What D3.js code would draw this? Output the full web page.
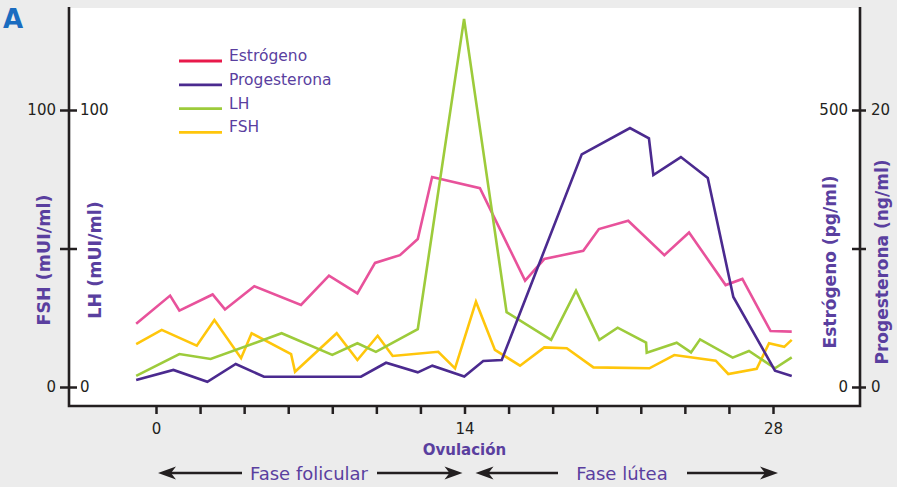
<!DOCTYPE html>
<html>
<head>
<meta charset="utf-8">
<script src="https://cdn.jsdelivr.net/npm/d3@7"></script>
<style>
  html, body { margin: 0; padding: 0; background: #ececec; }
  svg { display: block; font-family: "DejaVu Sans", Verdana, sans-serif; }
</style>
</head>
<body>
<svg id="chart" width="897" height="487"></svg>
<script>
// Hormone levels across the menstrual cycle: [day of cycle, value]
const estrogeno = [[-0.9,114],[0.64,165],[1.06,138],[2.57,167],[3.13,140],[4.46,182],[6.58,148],[7.85,201],[9.14,169],[9.94,224],[11.07,238],[11.88,267],[12.53,379],[14.7,359],[16.75,192],[17.62,231],[19.39,246],[20.1,285],[21.43,300],[23.07,238],[24.19,279],[25.85,184],[26.61,195],[27.89,101],[28.85,100]];
const progesterona = [[-0.9,0.5],[0.79,1.23],[2.33,0.38],[3.62,1.66],[4.9,0.74],[9.3,0.74],[10.44,1.75],[11.88,1.06],[12.54,1.54],[13.99,0.76],[14.85,1.88],[15.69,1.95],[19.32,16.8],[21.51,18.7],[22.37,17.95],[22.57,15.3],[23.82,16.6],[25.04,15.1],[26.2,6.5],[28.09,1.18],[28.85,0.79]];
const lh = [[-0.9,4],[1.06,11.9],[2.48,10.1],[5.7,19.4],[8,11.6],[9.14,15.8],[9.98,12.7],[11.88,20.9],[13.98,132.9],[15.91,27],[17.93,17],[19.06,34.8],[20.12,17],[20.95,21.4],[22.24,16],[22.27,12.4],[23.63,16],[24.28,12.5],[24.69,17.2],[26.17,10.6],[26.91,13],[28.09,6.75],[28.85,10.7]];
const fsh = [[-0.9,15.5],[0.26,20.6],[1.85,14.9],[2.65,24.2],[3.86,10.4],[4.34,19.4],[6.13,11.9],[6.31,5.5],[8.2,19.4],[9.14,9.75],[10.06,18.5],[10.74,11.2],[12.81,12.7],[13.57,6.7],[14.52,30.8],[15.38,13.4],[16.52,7.7],[17.62,14.3],[18.64,14],[19.85,7.1],[22.39,6.75],[23.52,11.55],[25.4,9.5],[25.97,4.7],[27.26,6.6],[27.82,15.8],[28.51,14.5],[28.85,17]];

// Axis ticks
const dayTicks = [0,2,4,6,8,10,12,14,16,18,20,22,24,26,28];
const dayLabels = [0,14,28];
const mUITicks = [0,50,100];
const estrTicks = [0,250,500];
const progTicks = [0,10,20];

// Legend entries
const legendNames = ["Estrógeno","Progesterona","LH","FSH"];
const legendColors = ["#e8194b","#4b2a8f","#9dcb3b","#ffc60b"];

const svg = d3.select("#chart");
const W = 897, H = 487;
const plot = {left: 69, right: 860, top: 8, bottom: 406};

svg.append("rect").attr("width", W).attr("height", H).attr("fill", "#ececec");
svg.append("rect")
  .attr("x", plot.left).attr("y", plot.top)
  .attr("width", plot.right - plot.left).attr("height", plot.bottom - plot.top)
  .attr("fill", "#ffffff");

const x = d3.scaleLinear().domain([0, 28]).range([156, 773]);
const yFSH = d3.scaleLinear().domain([0, 100]).range([387, 110]);
const yLH = d3.scaleLinear().domain([0, 100]).range([387, 110]);
const yE = d3.scaleLinear().domain([0, 500]).range([387, 110]);
const yP = d3.scaleLinear().domain([0, 20]).range([387, 110]);

const axisColor = "#231f20";
const textPurple = "#5a3f9f";

function styleAxis(g) {
  g.select(".domain").remove();
  g.selectAll(".tick line").attr("stroke", axisColor).attr("stroke-width", 2.5);
  g.selectAll(".tick text").attr("fill", axisColor).style("font-size", "15px")
    .style("font-family", "'DejaVu Sans', Verdana, sans-serif");
}
const labelOnly = keep => d => keep.includes(d) ? d : "";

// Left: FSH (outer) and LH (inner) share the same spine
svg.append("g").attr("transform", `translate(${plot.left},0)`)
  .call(d3.axisLeft(yFSH).tickValues(mUITicks).tickSize(9).tickPadding(4).tickFormat(labelOnly([0,100])))
  .call(styleAxis);
svg.append("g").attr("transform", `translate(${plot.left},0)`)
  .call(d3.axisRight(yLH).tickValues(mUITicks).tickSize(8).tickPadding(3).tickFormat(labelOnly([0,100])))
  .call(styleAxis);

// Right: Estrógeno (inner) and Progesterona (outer)
svg.append("g").attr("transform", `translate(${plot.right},0)`)
  .call(d3.axisLeft(yE).tickValues(estrTicks).tickSize(8).tickPadding(4).tickFormat(labelOnly([0,500])))
  .call(styleAxis);
svg.append("g").attr("transform", `translate(${plot.right},0)`)
  .call(d3.axisRight(yP).tickValues(progTicks).tickSize(6).tickPadding(5).tickFormat(labelOnly([0,20])))
  .call(styleAxis);

// Bottom: day of cycle
svg.append("g").attr("transform", `translate(0,${plot.bottom})`)
  .call(d3.axisBottom(x).tickValues(dayTicks).tickSize(8).tickPadding(9).tickFormat(labelOnly(dayLabels)))
  .call(styleAxis);

// Frame spines
const spine = svg.append("g").attr("stroke", axisColor).attr("stroke-width", 2.6).attr("fill", "none");
spine.append("path").attr("d", `M${plot.left},7 V${plot.bottom} H${plot.right} V7`);

// Hormone curves
const lineOf = yScale => d3.line().x(d => x(d[0])).y(d => yScale(d[1]));
const series = [
  {data: estrogeno, y: yE, color: "#e8529b"},
  {data: fsh, y: yFSH, color: "#ffc60b"},
  {data: lh, y: yLH, color: "#9dcb3b"},
  {data: progesterona, y: yP, color: "#4b2a8f"}
];
svg.append("g").selectAll("path").data(series).join("path")
  .attr("d", s => lineOf(s.y)(s.data))
  .attr("fill", "none")
  .attr("stroke", s => s.color)
  .attr("stroke-width", 2.6)
  .attr("stroke-linejoin", "miter");

// Legend
const legend = svg.append("g");
const legendRows = legend.selectAll("g").data(legendNames).join("g")
  .attr("transform", (d, i) => `translate(179,${61 + i * 23.8})`);
legendRows.append("line").attr("x1", 0).attr("x2", 43)
  .attr("stroke", (d, i) => legendColors[i]).attr("stroke-width", 2.8);
legendRows.append("text").attr("x", 50).attr("y", 0)
  .attr("fill", textPurple).style("font-size", "15.5px").text(d => d);

// Axis titles
function vTitle(cx, cy, txt, size) {
  svg.append("text")
    .attr("transform", `translate(${cx},${cy}) rotate(-90)`)
    .attr("text-anchor", "middle").attr("dominant-baseline", "central")
    .attr("fill", textPurple).style("font-size", size + "px").style("font-weight", "bold")
    .text(txt);
}
vTitle(44, 260, "FSH (mUI/ml)", 17.5);
vTitle(95, 260, "LH (mUI/ml)", 17.5);
vTitle(830, 262, "Estrógeno (pg/ml)", 17);
vTitle(882, 262, "Progesterona (ng/ml)", 17);

svg.append("text").attr("x", x(14)).attr("y", 450)
  .attr("text-anchor", "middle").attr("dominant-baseline", "central")
  .attr("fill", textPurple).style("font-size", "15px").style("font-weight", "bold")
  .text("Ovulación");

// Phase arrows
function arrowHead(tipX, y, dir) {
  const L = 18, Hh = 6.5, notch = 5;
  const bx = tipX + dir * L;
  return `M${tipX},${y} L${bx},${y - Hh} L${tipX + dir * (L - notch)},${y} L${bx},${y + Hh} Z`;
}
function phase(x0, x1, textX0, textX1, label) {
  const yA = 473;
  const g = svg.append("g");
  g.append("line").attr("x1", x0 + 10).attr("x2", textX0 - 6).attr("y1", yA).attr("y2", yA)
    .attr("stroke", axisColor).attr("stroke-width", 2.6);
  g.append("line").attr("x1", textX1 + 7).attr("x2", x1 - 10).attr("y1", yA).attr("y2", yA)
    .attr("stroke", axisColor).attr("stroke-width", 2.6);
  g.append("path").attr("d", arrowHead(x0, yA, 1)).attr("fill", axisColor);
  g.append("path").attr("d", arrowHead(x1, yA, -1)).attr("fill", axisColor);
  g.append("text").attr("x", (textX0 + textX1) / 2).attr("y", yA)
    .attr("text-anchor", "middle").attr("dominant-baseline", "central")
    .attr("fill", textPurple).style("font-size", "18px").text(label);
}
phase(x(0) + 2, x(14) - 2, 248, 370, "Fase folicular");
phase(x(14) + 11, x(28) + 5, 564, 680, "Fase lútea");

// Panel letter
svg.append("text").attr("x", 3).attr("y", 28)
  .attr("fill", "#1a6cc0").style("font-size", "26px").style("font-weight", "bold")
  .style("font-family", "'DejaVu Sans', Verdana, sans-serif")
  .text("A");
</script>
</body>
</html>
